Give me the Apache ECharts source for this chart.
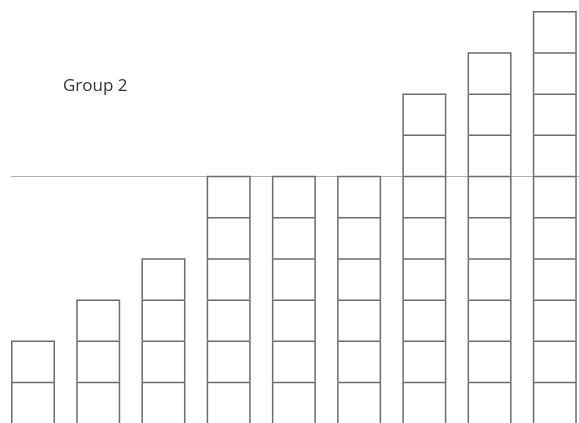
<!DOCTYPE html>
<html>
<head>
<meta charset="utf-8">
<script src="https://cdn.jsdelivr.net/npm/echarts@6/dist/echarts.min.js"></script>
<style>
  html, body { margin: 0; padding: 0; background: #fff; }
  #main { width: 579px; height: 423px; }
</style>
</head>
<body>
<div id="main"></div>
<script>
const categories = ['A', 'B', 'C', 'D', 'E', 'F', 'G', 'H', 'I'];
const values = [2, 3, 4, 6, 6, 6, 8, 9, 10];
const refLine = 6;
const yMax = 10;

const chart = echarts.init(document.getElementById('main'));
const gridTop = 11;
const unit = (423 - gridTop) / yMax;

// open-bottomed square outline, stacked so each box shares its neighbour's edge
const boxPath = 'path://M0,0H44V41.2H42.5V1.5H1.5V41.2H0Z';

chart.setOption({
  animation: false,
  title: {
    text: 'Group 2',
    left: 58,
    top: 73,
    textStyle: {
      fontSize: 17,
      fontWeight: 'normal',
      color: '#333',
      fontFamily: 'Open Sans'
    }
  },
  grid: {
    left: 11,
    top: gridTop,
    bottom: 0,
    width: 587,
    outerBoundsMode: 'none'
  },
  xAxis: {
    type: 'category',
    data: categories,
    show: false
  },
  yAxis: {
    type: 'value',
    min: 0,
    max: yMax,
    show: false
  },
  series: [
    {
      name: 'Group 2',
      type: 'pictorialBar',
      data: values,
      symbol: boxPath,
      symbolRepeat: true,
      symbolMargin: 0,
      symbolSize: [44, unit],
      symbolOffset: [-10.6, 0],
      itemStyle: {
        color: '#6c6c6c'
      },
      markLine: {
        silent: true,
        symbol: 'none',
        label: { show: false },
        lineStyle: { color: '#b0b0b0', width: 1, type: 'solid' },
        z: 1,
        data: [{ yAxis: refLine }]
      }
    }
  ]
});
</script>
</body>
</html>
